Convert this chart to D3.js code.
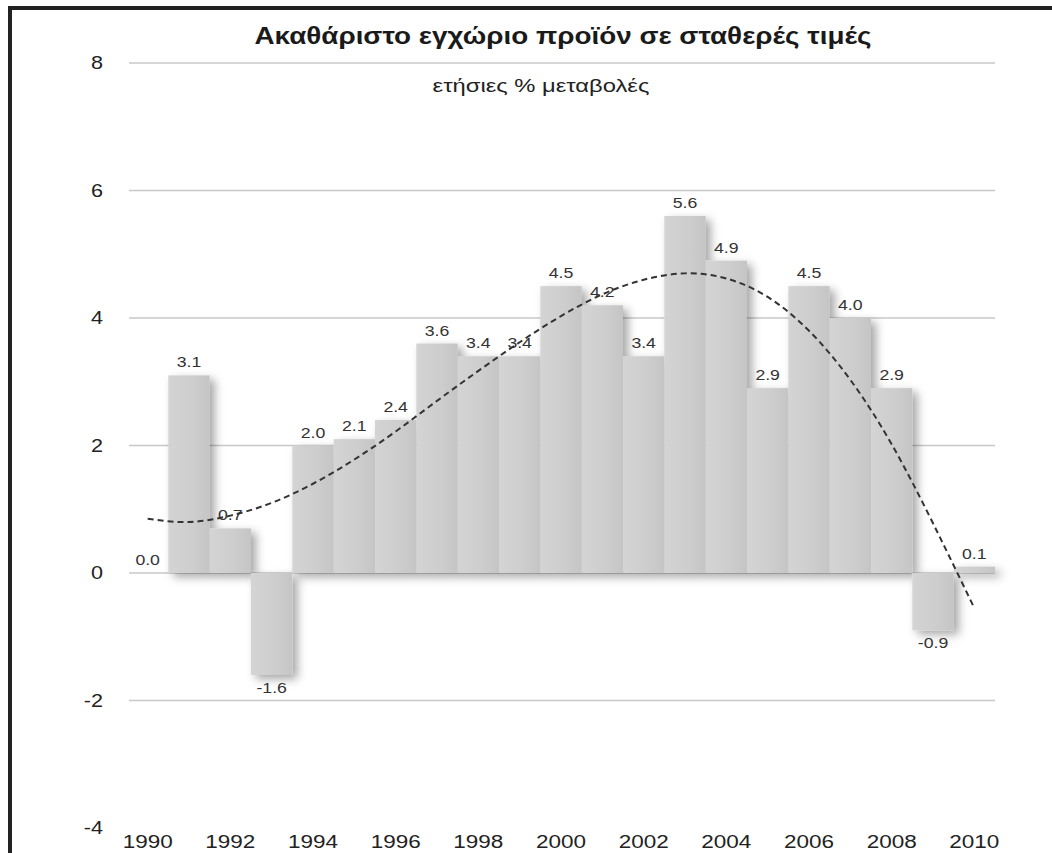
<!DOCTYPE html>
<html>
<head>
<meta charset="utf-8">
<script src="https://cdn.jsdelivr.net/npm/d3@7/dist/d3.min.js"></script>
<style>
  html, body { margin: 0; padding: 0; background: #fff; }
  svg { display: block; font-family: "Liberation Sans", Arial, Helvetica, sans-serif; }
</style>
</head>
<body>
<svg id="chart" width="1052" height="853"></svg>
<script>
// ---- data -------------------------------------------------------------------
const years  = d3.range(1990, 2011);
const growth = [0.0, 3.1, 0.7, -1.6, 2.0, 2.1, 2.4, 3.6, 3.4, 3.4, 4.5,
                4.2, 3.4, 5.6, 4.9, 2.9, 4.5, 4.0, 2.9, -0.9, 0.1];
// dashed trend line at each year
const trend  = [0.85, 0.80, 0.90, 1.10, 1.40, 1.78, 2.22, 2.70, 3.17, 3.62, 4.03,
                4.37, 4.60, 4.70, 4.62, 4.33, 3.80, 3.03, 2.02, 0.78, -0.55];
const yTicks = [-4, -2, 0, 2, 4, 6, 8];
const xTickYears = years.filter(y => y % 2 === 0);

const title    = 'Ακαθάριστο εγχώριο προϊόν σε σταθερές τιμές';
const subtitle = 'ετήσιες % μεταβολές';

// ---- setup ------------------------------------------------------------------
const svg = d3.select('#chart');
const W = 1052, H = 853;

const x = d3.scaleBand().domain(years).range([127, 995]).padding(0);
const y = d3.scaleLinear().domain([-4, 8]).range([828, 63]);

// the scanned original is slightly stretched sideways; mimic with a scaleX
function label(g, tx, ty, str, size, sx, anchor) {
  return g.append('text')
    .attr('transform', `translate(${tx},${ty}) scale(${sx},1)`)
    .attr('text-anchor', anchor || 'middle')
    .attr('font-size', size)
    .text(str);
}

const defs = svg.append('defs');
const grad = defs.append('linearGradient').attr('id', 'barGrad')
  .attr('x1', '0%').attr('x2', '100%').attr('y1', '0%').attr('y2', '0%');
grad.append('stop').attr('offset', '0%').attr('stop-color', '#d4d4d4');
grad.append('stop').attr('offset', '60%').attr('stop-color', '#cdcdcd');
grad.append('stop').attr('offset', '100%').attr('stop-color', '#c5c5c5');

const shadow = defs.append('filter').attr('id', 'shadow')
  .attr('x', '-30%').attr('y', '-30%').attr('width', '170%').attr('height', '170%');
shadow.append('feDropShadow')
  .attr('dx', 5).attr('dy', 4).attr('stdDeviation', 5)
  .attr('flood-color', '#000').attr('flood-opacity', 0.35);

// frame (left + top edge)
svg.append('path')
  .attr('d', `M10,${H} L10,8 L${W},8`)
  .attr('fill', 'none').attr('stroke', '#222').attr('stroke-width', 4);

// ---- grid -------------------------------------------------------------------
svg.append('g').selectAll('line')
  .data(yTicks.filter(t => t !== -4))
  .enter().append('line')
  .attr('x1', 129).attr('x2', 995)
  .attr('y1', d => y(d)).attr('y2', d => y(d))
  .attr('stroke', '#c8c8c8').attr('stroke-width', 1.5);

const gY = svg.append('g').attr('fill', '#222');
yTicks.forEach(t => label(gY, 103, y(t) + 6, t, 18, 1.2, 'end'));

// ---- bars -------------------------------------------------------------------
const bars = years.map((yr, i) => ({ yr, v: growth[i], t: trend[i] }));

svg.append('g').attr('filter', 'url(#shadow)')
  .selectAll('rect')
  .data(bars.filter(d => d.v !== 0))
  .enter().append('rect')
  .attr('x', d => x(d.yr))
  .attr('width', x.bandwidth())
  .attr('y', d => y(Math.max(0, d.v)))
  .attr('height', d => Math.abs(y(d.v) - y(0)))
  .attr('fill', 'url(#barGrad)');

const gV = svg.append('g').attr('fill', '#333');
bars.forEach(d => {
  const cx = x(d.yr) + x.bandwidth() / 2;
  const ty = d.v < 0 ? y(d.v) + 18 : y(d.v) - 8;
  label(gV, cx, ty, d.v.toFixed(1), 14.5, 1.22);
});

// ---- trend line -------------------------------------------------------------
const line = d3.line()
  .x(d => x(d.yr) + x.bandwidth() / 2)
  .y(d => y(d.t))
  .curve(d3.curveNatural);

svg.append('path')
  .datum(bars)
  .attr('d', line)
  .attr('fill', 'none')
  .attr('stroke', '#333')
  .attr('stroke-width', 2)
  .attr('stroke-dasharray', '6,4');

// ---- x labels ---------------------------------------------------------------
const gX = svg.append('g').attr('fill', '#222');
xTickYears.forEach(yr => label(gX, x(yr) + x.bandwidth() / 2, 848, yr, 18, 1.25));

// ---- titles -----------------------------------------------------------------
label(svg, 563, 44, title, 23, 1.21)
  .attr('font-weight', 'bold').attr('fill', '#1a1a1a');

label(svg, 541, 92, subtitle, 19, 1.25)
  .attr('fill', '#222');
</script>
</body>
</html>
